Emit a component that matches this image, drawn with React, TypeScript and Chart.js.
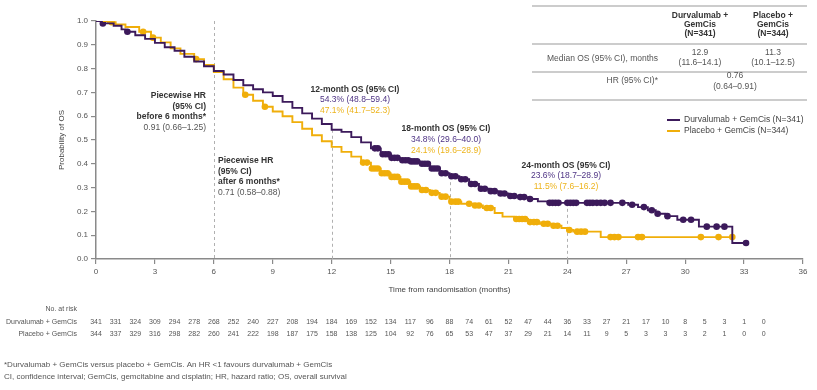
import React, { useEffect, useRef } from 'react';
import { Chart, registerables } from 'chart.js';

Chart.register(...registerables);

// ---------- data ----------
const DURVA_T = [0, 0.3, 0.9, 1.3, 1.5, 2.0, 2.5, 3.0, 3.5, 4.0, 4.5, 5.0, 5.5, 6.0, 6.5, 7.0, 7.5, 8.0, 8.5, 9.0, 9.5, 10.0, 10.5, 11.0, 11.5, 12.0, 12.5, 13.0, 13.5, 14.0, 14.5, 15.0, 15.5, 16.0, 16.5, 17.0, 17.5, 18.0, 18.5, 19.0, 19.5, 20.0, 20.5, 21.0, 21.5, 22.0, 22.5, 23.0, 27.1, 27.6, 28.1, 28.5, 29.0, 29.6, 30.7, 32.4, 33.1];
const DURVA_S = [1.0, 0.99, 0.98, 0.965, 0.955, 0.94, 0.925, 0.908, 0.89, 0.875, 0.85, 0.83, 0.81, 0.79, 0.775, 0.752, 0.73, 0.713, 0.7, 0.685, 0.66, 0.635, 0.612, 0.59, 0.567, 0.543, 0.534, 0.512, 0.49, 0.465, 0.44, 0.425, 0.415, 0.41, 0.4, 0.38, 0.36, 0.348, 0.335, 0.315, 0.295, 0.285, 0.275, 0.265, 0.26, 0.252, 0.242, 0.236, 0.228, 0.218, 0.205, 0.19, 0.18, 0.165, 0.136, 0.067, 0.067];

const PLACEBO_T = [0, 0.6, 1.0, 1.5, 2.2, 2.8, 3.3, 3.8, 4.3, 5.0, 5.5, 6.0, 6.5, 7.0, 7.5, 8.0, 8.5, 9.0, 9.5, 10.0, 10.5, 11.0, 11.5, 12.0, 12.5, 13.0, 13.5, 14.0, 14.5, 15.0, 15.5, 16.0, 16.5, 17.0, 17.5, 18.0, 18.6, 19.2, 19.7, 20.3, 20.7, 21.3, 22.0, 22.6, 23.2, 23.7, 24.0, 24.3, 25.7, 32.4];
const PLACEBO_S = [1.0, 0.995, 0.985, 0.975, 0.955, 0.93, 0.91, 0.885, 0.862, 0.84, 0.815, 0.785, 0.755, 0.72, 0.69, 0.665, 0.64, 0.62, 0.6, 0.575, 0.547, 0.52, 0.495, 0.471, 0.45, 0.43, 0.405, 0.38, 0.36, 0.345, 0.325, 0.305, 0.29, 0.278, 0.262, 0.241, 0.232, 0.225, 0.214, 0.193, 0.178, 0.168, 0.155, 0.148, 0.14, 0.13, 0.122, 0.115, 0.092, 0.092];

const DURVA_CENSOR_T = [0.35, 1.6, 14.2, 14.35, 14.6, 14.75, 14.9, 15.05, 15.2, 15.35, 15.6, 15.75, 15.9, 16.05, 16.2, 16.35, 16.6, 16.75, 16.9, 17.1, 17.25, 17.4, 17.6, 17.8, 18.1, 18.3, 18.6, 18.8, 19.1, 19.3, 19.6, 19.8, 20.1, 20.3, 20.6, 20.8, 21.1, 21.3, 21.6, 21.8, 22.1, 23.1, 23.25, 23.4, 23.55, 24.0, 24.15, 24.3, 24.45, 25.0, 25.15, 25.3, 25.5, 25.7, 25.9, 26.2, 26.8, 27.3, 27.9, 28.3, 28.6, 29.1, 29.9, 30.3, 31.1, 31.6, 32.0, 33.1];
const DURVA_CENSOR_S = [0.99, 0.955, 0.465, 0.465, 0.44, 0.44, 0.44, 0.425, 0.425, 0.425, 0.415, 0.415, 0.415, 0.41, 0.41, 0.41, 0.4, 0.4, 0.4, 0.38, 0.38, 0.38, 0.36, 0.36, 0.348, 0.348, 0.335, 0.335, 0.315, 0.315, 0.295, 0.295, 0.285, 0.285, 0.275, 0.275, 0.265, 0.265, 0.26, 0.26, 0.252, 0.236, 0.236, 0.236, 0.236, 0.236, 0.236, 0.236, 0.236, 0.236, 0.236, 0.236, 0.236, 0.236, 0.236, 0.236, 0.236, 0.228, 0.218, 0.205, 0.19, 0.18, 0.165, 0.165, 0.136, 0.136, 0.136, 0.067];

const PLACEBO_CENSOR_T = [0.8, 2.4, 2.9, 5.1, 7.6, 8.6, 13.6, 13.8, 14.05, 14.2, 14.35, 14.55, 14.7, 14.85, 15.05, 15.2, 15.35, 15.55, 15.7, 15.85, 16.05, 16.2, 16.35, 16.6, 16.8, 17.1, 17.3, 17.6, 17.8, 18.1, 18.3, 18.45, 19.0, 19.3, 19.5, 19.9, 20.1, 21.4, 21.55, 21.7, 21.85, 22.1, 22.3, 22.45, 22.8, 23.0, 23.3, 23.5, 24.1, 24.5, 24.7, 24.9, 26.2, 26.4, 26.6, 27.6, 27.8, 30.8, 31.7, 32.4];
const PLACEBO_CENSOR_S = [0.995, 0.955, 0.93, 0.84, 0.69, 0.64, 0.405, 0.405, 0.38, 0.38, 0.38, 0.36, 0.36, 0.36, 0.345, 0.345, 0.345, 0.325, 0.325, 0.325, 0.305, 0.305, 0.305, 0.29, 0.29, 0.278, 0.278, 0.262, 0.262, 0.241, 0.241, 0.241, 0.232, 0.225, 0.225, 0.214, 0.214, 0.168, 0.168, 0.168, 0.168, 0.155, 0.155, 0.155, 0.148, 0.148, 0.14, 0.14, 0.122, 0.115, 0.115, 0.115, 0.092, 0.092, 0.092, 0.092, 0.092, 0.092, 0.092, 0.092];

const RISK_MONTHS = [0, 1, 2, 3, 4, 5, 6, 7, 8, 9, 10, 11, 12, 13, 14, 15, 16, 17, 18, 19, 20, 21, 22, 23, 24, 25, 26, 27, 28, 29, 30, 31, 32, 33, 34];
const DURVA_AT_RISK = [341, 331, 324, 309, 294, 278, 268, 252, 240, 227, 208, 194, 184, 169, 152, 134, 117, 96, 88, 74, 61, 52, 47, 44, 36, 33, 27, 21, 17, 10, 8, 5, 3, 1, 0];
const PLACEBO_AT_RISK = [344, 337, 329, 316, 298, 282, 260, 241, 222, 198, 187, 175, 158, 138, 125, 104, 92, 76, 65, 53, 47, 37, 29, 21, 14, 11, 9, 5, 3, 3, 3, 2, 1, 0, 0];

const REF_MONTHS = [6, 12, 18, 24];
const REF_TOP = [1.0, 0.543, 0.348, 0.236];

const SERIES_NAMES = ['Durvalumab + GemCis (N=341)', 'Placebo + GemCis (N=344)'];
const RISK_LABELS = ['Durvalumab + GemCis', 'Placebo + GemCis'];

const PURPLE = '#3C1A5B';
const GOLD = '#F0AE0A';
const PURPLE_TXT = '#4E3384';
const GOLD_TXT = '#EDB41C';
const GREY = '#555555';
const FONT = '"Liberation Sans", Arial, Helvetica, sans-serif';

const zip = (xs: number[], ys: number[]) => xs.map((x, i) => ({ x, y: ys[i] }));

function txt(ctx: CanvasRenderingContext2D, s: string, x: number, y: number, size: number, color: string, align: CanvasTextAlign = 'left', bold = false) {
  ctx.save();
  ctx.font = `${bold ? 'bold ' : ''}${size}px ${FONT}`;
  ctx.fillStyle = color;
  ctx.textAlign = align;
  ctx.textBaseline = 'middle';
  ctx.fillText(s, x, y);
  ctx.restore();
}

function hline(ctx: CanvasRenderingContext2D, x1: number, x2: number, y: number) {
  ctx.save();
  ctx.strokeStyle = '#9a9a9a';
  ctx.lineWidth = 1.2;
  ctx.beginPath();
  ctx.moveTo(x1, y);
  ctx.lineTo(x2, y);
  ctx.stroke();
  ctx.restore();
}

const overlay = {
  id: 'overlay',
  beforeDatasetsDraw(chart: any) {
    const { ctx, scales } = chart;
    const xs = scales.x, ys = scales.y;
    ctx.save();
    ctx.strokeStyle = '#b0b0b0';
    ctx.lineWidth = 1;
    ctx.setLineDash([3, 3]);
    REF_MONTHS.forEach((m, i) => {
      const px = Math.round(xs.getPixelForValue(m)) + 0.5;
      ctx.beginPath();
      ctx.moveTo(px, ys.getPixelForValue(REF_TOP[i]));
      ctx.lineTo(px, ys.getPixelForValue(0));
      ctx.stroke();
    });
    ctx.restore();
  },
  afterDraw(chart: any) {
    const { ctx, scales } = chart;
    const xs = scales.x;

    // piecewise HR annotations
    txt(ctx, 'Piecewise HR', 206, 96, 8.5, '#333', 'right', true);
    txt(ctx, '(95% CI)', 206, 107, 8.5, '#333', 'right', true);
    txt(ctx, 'before 6 months*', 206, 117, 8.5, '#333', 'right', true);
    txt(ctx, '0.91 (0.66\u20131.25)', 206, 128, 8.5, GREY, 'right');

    txt(ctx, 'Piecewise HR', 218, 161, 8.5, '#333', 'left', true);
    txt(ctx, '(95% CI)', 218, 172, 8.5, '#333', 'left', true);
    txt(ctx, 'after 6 months*', 218, 182, 8.5, '#333', 'left', true);
    txt(ctx, '0.71 (0.58\u20130.88)', 218, 193, 8.5, GREY, 'left');

    // landmark OS annotations
    txt(ctx, '12-month OS (95% CI)', 355, 90, 8.5, '#333', 'center', true);
    txt(ctx, '54.3% (48.8\u201359.4)', 355, 100, 8.5, PURPLE_TXT, 'center');
    txt(ctx, '47.1% (41.7\u201352.3)', 355, 111, 8.5, GOLD_TXT, 'center');

    txt(ctx, '18-month OS (95% CI)', 446, 129, 8.5, '#333', 'center', true);
    txt(ctx, '34.8% (29.6\u201340.0)', 446, 140, 8.5, PURPLE_TXT, 'center');
    txt(ctx, '24.1% (19.6\u201328.9)', 446, 151, 8.5, GOLD_TXT, 'center');

    txt(ctx, '24-month OS (95% CI)', 566, 166, 8.5, '#333', 'center', true);
    txt(ctx, '23.6% (18.7\u201328.9)', 566, 176, 8.5, PURPLE_TXT, 'center');
    txt(ctx, '11.5% (7.6\u201316.2)', 566, 187, 8.5, GOLD_TXT, 'center');

    // summary table
    hline(ctx, 532, 807, 6);
    hline(ctx, 532, 807, 44);
    hline(ctx, 532, 807, 72);
    hline(ctx, 532, 807, 100);
    txt(ctx, 'Durvalumab +', 700, 16, 8.5, '#333', 'center', true);
    txt(ctx, 'GemCis', 700, 25, 8.5, '#333', 'center', true);
    txt(ctx, '(N=341)', 700, 34, 8.5, '#333', 'center', true);
    txt(ctx, 'Placebo +', 773, 16, 8.5, '#333', 'center', true);
    txt(ctx, 'GemCis', 773, 25, 8.5, '#333', 'center', true);
    txt(ctx, '(N=344)', 773, 34, 8.5, '#333', 'center', true);
    txt(ctx, 'Median OS (95% CI), months', 658, 59, 8.5, GREY, 'right');
    txt(ctx, '12.9', 700, 53, 8.5, GREY, 'center');
    txt(ctx, '(11.6\u201314.1)', 700, 63, 8.5, GREY, 'center');
    txt(ctx, '11.3', 773, 53, 8.5, GREY, 'center');
    txt(ctx, '(10.1\u201312.5)', 773, 63, 8.5, GREY, 'center');
    txt(ctx, 'HR (95% CI)*', 658, 81, 8.5, GREY, 'right');
    txt(ctx, '0.76', 735, 76, 8.5, GREY, 'center');
    txt(ctx, '(0.64\u20130.91)', 735, 87, 8.5, GREY, 'center');

    // legend
    [PURPLE, GOLD].forEach((c, i) => {
      const y = 120 + i * 11;
      ctx.save();
      ctx.strokeStyle = c;
      ctx.lineWidth = 2;
      ctx.beginPath();
      ctx.moveTo(667, y);
      ctx.lineTo(680, y);
      ctx.stroke();
      ctx.restore();
      txt(ctx, SERIES_NAMES[i], 684, y, 8.5, '#444', 'left');
    });

    // number at risk
    txt(ctx, 'No. at risk', 77, 309, 7, GREY, 'right');
    txt(ctx, RISK_LABELS[0], 77, 322, 7, GREY, 'right');
    txt(ctx, RISK_LABELS[1], 77, 334, 7, GREY, 'right');
    RISK_MONTHS.forEach((m, i) => {
      const px = xs.getPixelForValue(m);
      txt(ctx, String(DURVA_AT_RISK[i]), px, 322, 7, GREY, 'center');
      txt(ctx, String(PLACEBO_AT_RISK[i]), px, 334, 7, GREY, 'center');
    });

    // footnotes
    txt(ctx, '*Durvalumab + GemCis versus placebo + GemCis. An HR <1 favours durvalumab + GemCis', 4, 365, 8, GREY, 'left');
    txt(ctx, 'CI, confidence interval; GemCis, gemcitabine and cisplatin; HR, hazard ratio; OS, overall survival', 4, 377, 8, GREY, 'left');
  },
};

export default function App() {
  const ref = useRef<HTMLCanvasElement | null>(null);
  useEffect(() => {
    if (!ref.current) return;
    const chart = new Chart(ref.current, {
      type: 'line',
      data: {
        datasets: [
          {
            label: SERIES_NAMES[0],
            data: zip(DURVA_T, DURVA_S),
            borderColor: PURPLE,
            borderWidth: 1.9,
            stepped: 'before',
            pointRadius: 0,
            fill: false,
          },
          {
            label: SERIES_NAMES[1],
            data: zip(PLACEBO_T, PLACEBO_S),
            borderColor: GOLD,
            borderWidth: 1.9,
            stepped: 'before',
            pointRadius: 0,
            fill: false,
          },
          {
            label: 'durva censored',
            type: 'scatter',
            data: zip(DURVA_CENSOR_T, DURVA_CENSOR_S),
            backgroundColor: PURPLE,
            borderWidth: 0,
            pointRadius: 3.3,
          } as any,
          {
            label: 'placebo censored',
            type: 'scatter',
            data: zip(PLACEBO_CENSOR_T, PLACEBO_CENSOR_S),
            backgroundColor: GOLD,
            borderWidth: 0,
            pointRadius: 3.3,
          } as any,
        ],
      },
      options: {
        responsive: false,
        animation: false,
        devicePixelRatio: 1,
        layout: { padding: { left: 0, top: 21, right: 14, bottom: 90 } },
        plugins: { legend: { display: false }, tooltip: { enabled: false }, title: { display: false } },
        scales: {
          x: {
            type: 'linear',
            min: 0,
            max: 36,
            afterFit: (s: any) => { s.height = 41; },
            ticks: { stepSize: 3, font: { size: 8, family: FONT }, color: GREY, padding: 3, maxRotation: 0 },
            grid: { drawOnChartArea: false, drawTicks: true, tickLength: 5, color: '#8a8a8a', lineWidth: 1.2 },
            border: { display: true, color: '#8a8a8a', width: 1.5 },
            title: { display: true, text: 'Time from randomisation (months)', font: { size: 8, family: FONT }, color: '#444', padding: { top: 0, bottom: 5 } },
          },
          y: {
            type: 'linear',
            min: 0,
            max: 1,
            afterFit: (s: any) => { s.width = 96; },
            ticks: { stepSize: 0.1, font: { size: 8, family: FONT }, color: GREY, padding: 3, callback: (v: any) => Number(v).toFixed(1) },
            grid: { drawOnChartArea: false, drawTicks: true, tickLength: 5, color: '#8a8a8a', lineWidth: 1.2 },
            border: { display: true, color: '#8a8a8a', width: 1.5 },
            title: { display: true, text: 'Probability of OS', font: { size: 8, family: FONT }, color: '#444', padding: { top: 57, bottom: 0 } },
          },
        },
      },
      plugins: [overlay],
    } as any);
    return () => chart.destroy();
  }, []);
  return (
    <div style={{ position: 'fixed', left: 0, top: 0, width: 817, height: 390, background: '#fff' }}>
      <canvas ref={ref} width={817} height={390} style={{ display: 'block', width: 817, height: 390 }} />
    </div>
  );
}
